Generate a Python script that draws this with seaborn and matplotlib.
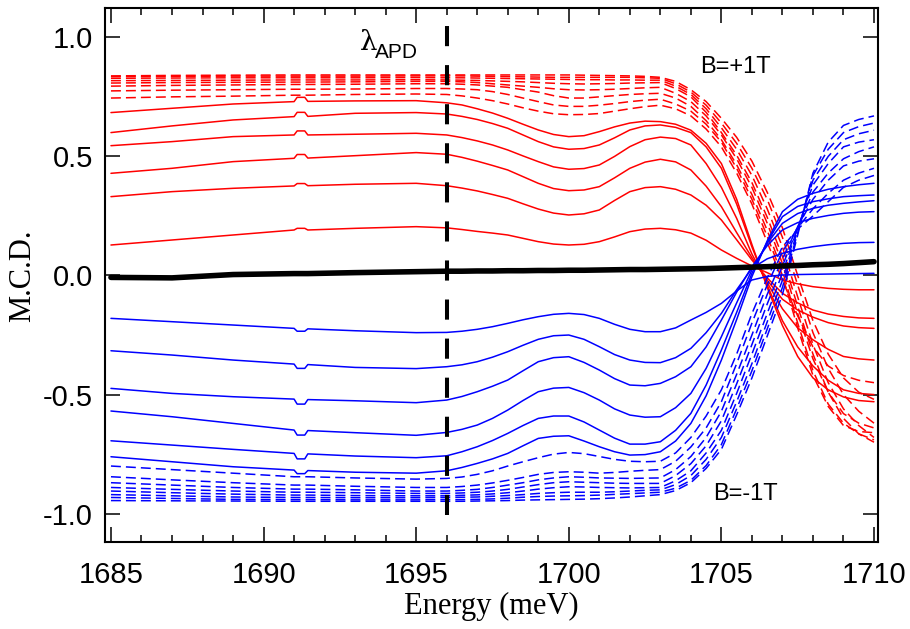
import pandas as pd
import seaborn as sns
import matplotlib.pyplot as plt
from matplotlib.ticker import MultipleLocator

# photon energy grid (meV) the curves were read at
energy = [1685, 1687, 1689, 1691, 1691.1, 1691.35, 1691.45, 1693, 1695,
          1696, 1696.5, 1697, 1697.5, 1698, 1698.5, 1699, 1699.5, 1700, 1700.5,
          1701, 1701.5, 1702, 1702.5, 1703, 1703.5, 1704, 1704.5, 1705, 1705.5,
          1706, 1706.5, 1707, 1707.5, 1708, 1708.5, 1709, 1709.5, 1710]

lambda_apd = 1696

# B = +1T, solid traces
red_solid = [
    [0.684, 0.702, 0.720, 0.730, 0.748, 0.748, 0.731, 0.733, 0.734,
     0.725, 0.716, 0.700, 0.682, 0.660, 0.635, 0.611, 0.592, 0.583, 0.587, 0.604, 0.624, 0.640, 0.648, 0.646,
     0.635, 0.610, 0.555, 0.470, 0.320, 0.130, -0.050, -0.210, -0.340, -0.430, -0.480, -0.510, -0.525, -0.530],
    [0.600, 0.628, 0.653, 0.667, 0.685, 0.685, 0.668, 0.681, 0.684,
     0.678, 0.668, 0.655, 0.638, 0.618, 0.590, 0.562, 0.540, 0.530, 0.533, 0.548, 0.578, 0.611, 0.628, 0.632,
     0.622, 0.600, 0.540, 0.450, 0.300, 0.120, -0.040, -0.190, -0.300, -0.380, -0.440, -0.480, -0.495, -0.500],
    [0.545, 0.562, 0.583, 0.590, 0.607, 0.607, 0.590, 0.593, 0.597,
     0.590, 0.579, 0.565, 0.548, 0.527, 0.502, 0.478, 0.456, 0.446, 0.449, 0.464, 0.500, 0.541, 0.570, 0.581,
     0.575, 0.548, 0.470, 0.370, 0.240, 0.090, -0.030, -0.140, -0.220, -0.270, -0.310, -0.340, -0.350, -0.355],
    [0.429, 0.450, 0.478, 0.492, 0.508, 0.508, 0.493, 0.503, 0.516,
     0.509, 0.496, 0.480, 0.462, 0.443, 0.415, 0.387, 0.365, 0.356, 0.359, 0.373, 0.410, 0.450, 0.476, 0.488,
     0.477, 0.443, 0.375, 0.289, 0.180, 0.075, -0.020, -0.100, -0.145, -0.175, -0.198, -0.212, -0.219, -0.222],
    [0.331, 0.352, 0.366, 0.376, 0.386, 0.386, 0.377, 0.383, 0.387,
     0.377, 0.367, 0.355, 0.340, 0.324, 0.301, 0.279, 0.262, 0.254, 0.259, 0.275, 0.315, 0.352, 0.369, 0.373,
     0.362, 0.338, 0.295, 0.233, 0.150, 0.065, -0.010, -0.075, -0.115, -0.145, -0.162, -0.172, -0.178, -0.180],
    [0.128, 0.149, 0.170, 0.191, 0.198, 0.198, 0.191, 0.198, 0.205,
     0.200, 0.193, 0.185, 0.178, 0.170, 0.156, 0.142, 0.132, 0.128, 0.131, 0.142, 0.162, 0.184, 0.195, 0.198,
     0.192, 0.178, 0.148, 0.107, 0.072, 0.040, 0.012, -0.019, -0.035, -0.047, -0.054, -0.058, -0.060, -0.060],
]

# B = +1T, dashed traces
red_dashed = [
    [0.838, 0.840, 0.841, 0.842, 0.842, 0.842, 0.842, 0.842, 0.842,
     0.842, 0.842, 0.842, 0.842, 0.842, 0.842, 0.842, 0.842, 0.842, 0.841, 0.840, 0.839, 0.838, 0.836, 0.832,
     0.815, 0.780, 0.730, 0.660, 0.580, 0.480, 0.350, 0.200, 0.000, -0.190, -0.330, -0.430, -0.490, -0.520],
    [0.835, 0.836, 0.837, 0.837, 0.837, 0.837, 0.837, 0.837, 0.838,
     0.838, 0.838, 0.837, 0.836, 0.835, 0.834, 0.833, 0.832, 0.832, 0.832, 0.832, 0.832, 0.832, 0.830, 0.828,
     0.805, 0.770, 0.715, 0.640, 0.555, 0.450, 0.320, 0.160, -0.040, -0.240, -0.390, -0.500, -0.570, -0.620],
    [0.828, 0.829, 0.830, 0.830, 0.830, 0.830, 0.830, 0.830, 0.831,
     0.830, 0.830, 0.829, 0.828, 0.827, 0.826, 0.825, 0.824, 0.823, 0.822, 0.822, 0.821, 0.821, 0.820, 0.820,
     0.795, 0.760, 0.700, 0.620, 0.530, 0.420, 0.280, 0.120, -0.090, -0.290, -0.450, -0.560, -0.630, -0.680],
    [0.818, 0.819, 0.820, 0.821, 0.821, 0.821, 0.821, 0.821, 0.822,
     0.821, 0.820, 0.819, 0.817, 0.815, 0.813, 0.810, 0.807, 0.805, 0.804, 0.805, 0.806, 0.808, 0.809, 0.810,
     0.785, 0.750, 0.685, 0.600, 0.505, 0.390, 0.245, 0.080, -0.130, -0.330, -0.490, -0.600, -0.665, -0.700],
    [0.808, 0.810, 0.811, 0.812, 0.812, 0.812, 0.812, 0.813, 0.815,
     0.815, 0.813, 0.810, 0.805, 0.800, 0.795, 0.790, 0.784, 0.780, 0.779, 0.780, 0.782, 0.785, 0.788, 0.790,
     0.765, 0.730, 0.670, 0.590, 0.490, 0.370, 0.220, 0.050, -0.160, -0.350, -0.490, -0.580, -0.620, -0.640],
    [0.795, 0.798, 0.800, 0.802, 0.802, 0.802, 0.802, 0.803, 0.805,
     0.805, 0.803, 0.800, 0.795, 0.790, 0.780, 0.770, 0.755, 0.745, 0.745, 0.750, 0.755, 0.760, 0.763, 0.765,
     0.745, 0.710, 0.650, 0.570, 0.465, 0.340, 0.190, 0.020, -0.200, -0.400, -0.540, -0.620, -0.665, -0.690],
    [0.775, 0.778, 0.780, 0.782, 0.782, 0.782, 0.782, 0.783, 0.785,
     0.785, 0.783, 0.780, 0.772, 0.760, 0.745, 0.730, 0.716, 0.710, 0.710, 0.715, 0.722, 0.730, 0.736, 0.740,
     0.720, 0.690, 0.635, 0.560, 0.450, 0.320, 0.165, 0.000, -0.220, -0.420, -0.550, -0.630, -0.655, -0.660],
    [0.745, 0.750, 0.753, 0.757, 0.757, 0.757, 0.757, 0.760, 0.762,
     0.760, 0.754, 0.745, 0.734, 0.720, 0.704, 0.690, 0.679, 0.675, 0.676, 0.680, 0.690, 0.700, 0.709, 0.715,
     0.700, 0.670, 0.615, 0.540, 0.430, 0.300, 0.140, -0.020, -0.170, -0.300, -0.380, -0.420, -0.440, -0.450],
]

# B = -1T, solid traces
blue_solid = [
    [-0.180, -0.194, -0.208, -0.222, -0.234, -0.234, -0.224, -0.232, -0.240,
     -0.239, -0.234, -0.226, -0.215, -0.201, -0.186, -0.173, -0.163, -0.159, -0.164, -0.180, -0.205, -0.226, -0.236, -0.236,
     -0.220, -0.187, -0.155, -0.117, -0.065, -0.019, -0.004, 0.002, 0.004, 0.005, 0.006, 0.007, 0.008, 0.009],
    [-0.316, -0.334, -0.355, -0.372, -0.390, -0.390, -0.374, -0.386, -0.391,
     -0.383, -0.375, -0.362, -0.343, -0.320, -0.293, -0.268, -0.253, -0.250, -0.268, -0.299, -0.332, -0.355, -0.365, -0.366,
     -0.345, -0.306, -0.240, -0.159, -0.060, 0.030, 0.070, 0.093, 0.110, 0.121, 0.129, 0.135, 0.138, 0.139],
    [-0.474, -0.495, -0.509, -0.519, -0.540, -0.540, -0.521, -0.526, -0.534,
     -0.523, -0.508, -0.488, -0.465, -0.439, -0.400, -0.362, -0.345, -0.341, -0.365, -0.397, -0.433, -0.460, -0.463, -0.453,
     -0.425, -0.383, -0.300, -0.187, -0.070, 0.037, 0.125, 0.191, 0.222, 0.240, 0.252, 0.261, 0.266, 0.268],
    [-0.569, -0.593, -0.621, -0.649, -0.670, -0.670, -0.651, -0.660, -0.671,
     -0.659, -0.646, -0.628, -0.600, -0.565, -0.525, -0.488, -0.473, -0.470, -0.492, -0.523, -0.560, -0.586, -0.595, -0.593,
     -0.555, -0.495, -0.390, -0.257, -0.115, 0.023, 0.135, 0.219, 0.260, 0.282, 0.295, 0.303, 0.309, 0.314],
    [-0.694, -0.712, -0.730, -0.747, -0.770, -0.770, -0.749, -0.758, -0.765,
     -0.757, -0.740, -0.719, -0.693, -0.663, -0.630, -0.600, -0.590, -0.590, -0.615, -0.649, -0.683, -0.708, -0.708, -0.698,
     -0.650, -0.579, -0.460, -0.313, -0.155, 0.009, 0.140, 0.247, 0.290, 0.310, 0.322, 0.331, 0.335, 0.338],
    [-0.761, -0.782, -0.803, -0.817, -0.832, -0.832, -0.819, -0.826, -0.830,
     -0.820, -0.806, -0.789, -0.770, -0.747, -0.715, -0.684, -0.675, -0.673, -0.695, -0.719, -0.740, -0.754, -0.752, -0.740,
     -0.695, -0.621, -0.505, -0.355, -0.185, -0.005, 0.145, 0.268, 0.320, 0.345, 0.362, 0.373, 0.381, 0.387],
]

# B = -1T, dashed traces
blue_dashed = [
    [-0.800, -0.815, -0.830, -0.845, -0.845, -0.845, -0.845, -0.850, -0.855,
     -0.852, -0.846, -0.835, -0.820, -0.800, -0.782, -0.765, -0.750, -0.743, -0.748, -0.760, -0.772, -0.780, -0.782, -0.780,
     -0.745, -0.680, -0.590, -0.480, -0.330, -0.160, -0.010, 0.120, 0.195, 0.250, 0.310, 0.370, 0.400, 0.420],
    [-0.845, -0.858, -0.870, -0.880, -0.880, -0.880, -0.880, -0.885, -0.890,
     -0.890, -0.886, -0.880, -0.871, -0.860, -0.848, -0.835, -0.827, -0.824, -0.826, -0.830, -0.827, -0.822, -0.818, -0.815,
     -0.780, -0.720, -0.640, -0.530, -0.370, -0.200, -0.040, 0.100, 0.200, 0.280, 0.345, 0.400, 0.430, 0.450],
    [-0.870, -0.880, -0.890, -0.897, -0.897, -0.897, -0.897, -0.900, -0.905,
     -0.905, -0.902, -0.898, -0.890, -0.880, -0.870, -0.858, -0.850, -0.845, -0.847, -0.850, -0.851, -0.852, -0.851, -0.850,
     -0.815, -0.760, -0.680, -0.570, -0.415, -0.250, -0.080, 0.070, 0.205, 0.320, 0.400, 0.460, 0.480, 0.490],
    [-0.890, -0.898, -0.905, -0.910, -0.910, -0.910, -0.910, -0.912, -0.915,
     -0.915, -0.913, -0.910, -0.905, -0.898, -0.888, -0.878, -0.870, -0.866, -0.868, -0.870, -0.872, -0.873, -0.873, -0.873,
     -0.840, -0.790, -0.715, -0.610, -0.455, -0.290, -0.120, 0.040, 0.200, 0.350, 0.430, 0.490, 0.520, 0.540],
    [-0.905, -0.912, -0.918, -0.922, -0.922, -0.922, -0.922, -0.924, -0.925,
     -0.925, -0.923, -0.921, -0.917, -0.912, -0.905, -0.897, -0.891, -0.887, -0.888, -0.890, -0.891, -0.892, -0.891, -0.890,
     -0.862, -0.820, -0.745, -0.650, -0.495, -0.330, -0.160, 0.010, 0.200, 0.380, 0.470, 0.540, 0.560, 0.570],
    [-0.920, -0.925, -0.930, -0.932, -0.932, -0.932, -0.932, -0.933, -0.933,
     -0.932, -0.931, -0.930, -0.927, -0.924, -0.920, -0.915, -0.912, -0.910, -0.910, -0.910, -0.908, -0.905, -0.902, -0.900,
     -0.878, -0.840, -0.772, -0.680, -0.530, -0.370, -0.195, -0.020, 0.190, 0.400, 0.500, 0.570, 0.595, 0.610],
    [-0.932, -0.936, -0.940, -0.941, -0.941, -0.941, -0.941, -0.942, -0.942,
     -0.941, -0.941, -0.940, -0.938, -0.935, -0.931, -0.928, -0.926, -0.925, -0.924, -0.922, -0.919, -0.916, -0.913, -0.910,
     -0.893, -0.860, -0.798, -0.710, -0.560, -0.400, -0.225, -0.050, 0.180, 0.420, 0.530, 0.600, 0.625, 0.640],
    [-0.945, -0.946, -0.947, -0.948, -0.948, -0.948, -0.948, -0.948, -0.948,
     -0.948, -0.948, -0.947, -0.946, -0.945, -0.943, -0.942, -0.941, -0.940, -0.939, -0.937, -0.934, -0.930, -0.925, -0.920,
     -0.903, -0.870, -0.810, -0.730, -0.585, -0.430, -0.255, -0.080, 0.170, 0.430, 0.560, 0.630, 0.655, 0.670],
]

# zero field reference
zero_field = [-0.008, -0.010, 0.004, 0.008, 0.008, 0.008, 0.008, 0.012, 0.016,
              0.018, 0.018, 0.019, 0.019, 0.020, 0.020, 0.021, 0.021, 0.022, 0.022, 0.023, 0.024, 0.025, 0.025, 0.026,
              0.027, 0.028, 0.029, 0.031, 0.033, 0.035, 0.037, 0.040, 0.042, 0.045, 0.047, 0.050, 0.054, 0.058]


sns.set_style('ticks')
plt.rcParams['font.family'] = ['Liberation Sans', 'DejaVu Sans']
plt.rcParams['axes.linewidth'] = 1.5
for key in ['text.color', 'axes.labelcolor', 'xtick.color', 'ytick.color', 'axes.edgecolor']:
    plt.rcParams[key] = 'black'

fig = plt.figure(figsize=(9.1, 6.29), dpi=100)
ax = fig.add_axes([0.1159, 0.1383, 0.8489, 0.8482])

red = '#ff0000'
blue = '#0000ff'
dash = (0, (6.5, 3.3))

def draw(values, color, ls, lw):
    df = pd.DataFrame({'energy': energy, 'mcd': values})
    sns.lineplot(data=df, x='energy', y='mcd', color=color, linestyle=ls, linewidth=lw,
                 estimator=None, sort=False, ax=ax)

for curve in red_dashed:
    draw(curve, red, dash, 1.1)
for curve in red_solid:
    draw(curve, red, '-', 1.1)
for curve in blue_dashed:
    draw(curve, blue, dash, 1.1)
for curve in blue_solid:
    draw(curve, blue, '-', 1.1)
draw(zero_field, 'black', '-', 4.0)

ax.axvline(lambda_apd, ymin=0.05, ymax=0.97, color='black', lw=2.9, linestyle=(0, (5, 4.7)))

ax.set_xlim(1684.82, 1710.13)
ax.set_ylim(-1.119, 1.121)
ax.xaxis.set_major_locator(MultipleLocator(5))
ax.xaxis.set_minor_locator(MultipleLocator(1))
ax.yaxis.set_major_locator(MultipleLocator(0.5))
ax.yaxis.set_major_formatter(plt.FormatStrFormatter('%.1f'))
ax.tick_params(which='both', direction='in', top=True, right=True, width=1.1)
ax.tick_params(which='major', length=11, labelsize=21)
ax.tick_params(which='minor', length=5)
ax.tick_params(axis='x', pad=14)
ax.tick_params(axis='y', pad=9)

ax.set_xlabel('Energy (meV)', family='Liberation Serif', fontsize=22, labelpad=2)
ax.set_ylabel('M.C.D.', family='Liberation Serif', fontsize=22, labelpad=4)

ax.text(1693.16, 0.947, 'λ', family='DejaVu Serif', fontsize=20, ha='left', va='baseline')
ax.text(1693.65, 0.913, 'APD', fontsize=15, ha='left', va='baseline')
ax.text(1704.30, 0.850, 'B=+1T', fontsize=17, ha='left', va='baseline')
ax.text(1704.72, -0.943, 'B=-1T', fontsize=17, ha='left', va='baseline')

fig.savefig('out.png', dpi=100)
